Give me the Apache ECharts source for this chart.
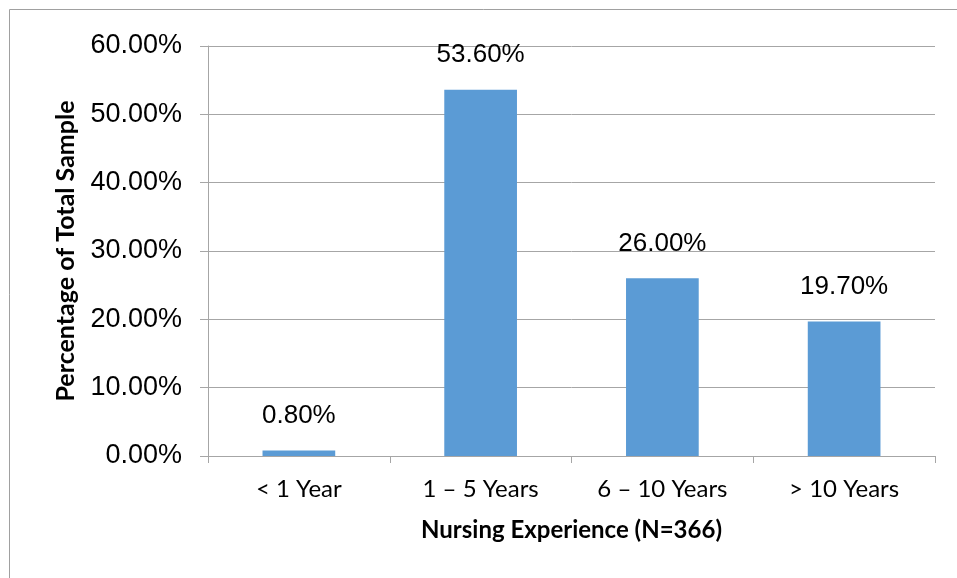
<!DOCTYPE html>
<html>
<head>
<meta charset="utf-8">
<script src="https://cdn.jsdelivr.net/npm/echarts@6/dist/echarts.min.js"></script>
<style>
  html, body { margin: 0; padding: 0; background: #fff; }
  #chart { width: 957px; height: 578px; }
</style>
</head>
<body>
<div id="chart"></div>
<script>
// nursing experience categories and share of total sample (%)
const categories = ['< 1 Year', '1 – 5 Years', '6 – 10 Years', '> 10 Years'];
const percentValues = [0.8, 53.6, 26.0, 19.7];
const yTicks = [0, 10, 20, 30, 40, 50, 60];

const chart = echarts.init(document.getElementById('chart'));
const gray = '#a6a6a6';

const option = {
  backgroundColor: '#fff',
  animation: false,
  graphic: [{
    type: 'rect',
    shape: { x: 9.5, y: 9.5, width: 960, height: 600 },
    style: { fill: 'none', stroke: '#a0a0a0', lineWidth: 1 },
    silent: true
  }],
  grid: { left: 208, right: 22, top: 46, bottom: 122 },
  xAxis: {
    type: 'category',
    data: categories,
    name: 'Nursing Experience (N=366)',
    nameLocation: 'middle',
    nameGap: 62,
    nameTextStyle: { fontFamily: 'Lato', fontWeight: 'bold', fontSize: 24, color: '#000' },
    axisLine: { lineStyle: { color: gray } },
    axisTick: { show: true, length: 7, alignWithLabel: false, lineStyle: { color: gray } },
    axisLabel: { margin: 21, fontFamily: 'Lato', fontSize: 24, color: '#000' }
  },
  yAxis: {
    type: 'value',
    min: yTicks[0],
    max: yTicks[yTicks.length - 1],
    interval: 10,
    name: 'Percentage of Total Sample',
    nameLocation: 'middle',
    nameGap: 130,
    nameTextStyle: { fontFamily: 'Lato', fontWeight: 'bold', fontSize: 25, color: '#000' },
    axisLine: { show: true, lineStyle: { color: gray } },
    axisTick: { show: true, length: 8, lineStyle: { color: gray } },
    splitLine: { lineStyle: { color: gray } },
    axisLabel: {
      margin: 26,
      fontFamily: 'Liberation Sans',
      fontSize: 27,
      color: '#000',
      formatter: v => v.toFixed(2) + '%'
    }
  },
  series: [{
    type: 'bar',
    data: percentValues,
    barCategoryGap: '60%',
    itemStyle: { color: '#5b9bd5' },
    label: {
      show: true,
      position: 'top',
      distance: 22,
      fontFamily: 'Liberation Sans',
      fontSize: 26,
      color: '#000',
      formatter: p => p.value.toFixed(2) + '%'
    }
  }]
};
chart.setOption(option);
</script>
</body>
</html>
